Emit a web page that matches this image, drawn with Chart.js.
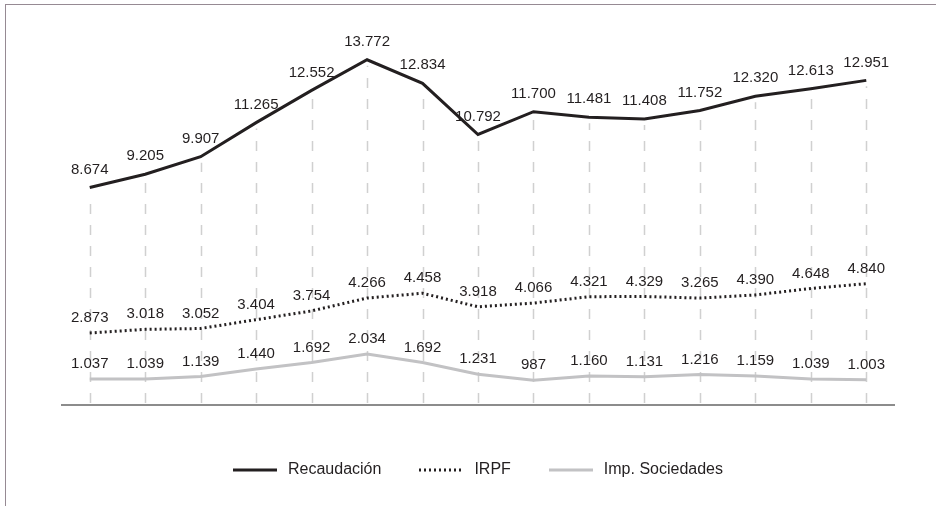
<!DOCTYPE html>
<html>
<head>
<meta charset="utf-8">
<script src="https://cdn.jsdelivr.net/npm/chart.js@4/dist/chart.umd.min.js"></script>
<style>
  html, body { margin: 0; padding: 0; background: #fff; }
  #wrap { position: relative; width: 936px; height: 506px; }
  #frame { position: absolute; left: 5px; top: 4px; right: 0; bottom: 0;
           border-left: 1px solid #968a93; border-top: 1px solid #968a93; pointer-events: none; }
</style>
</head>
<body>
<div id="wrap">
  <canvas id="chart" width="936" height="506"></canvas>
  <div id="frame"></div>
</div>
<script>
// data
const years = ['2002', '2003', '2004', '2005', '2006', '2007', '2008', '2009', '2010', '2011', '2012', '2013', '2014', '2015', '2016'];
const recaudacion = [8674, 9205, 9907, 11265, 12552, 13772, 12834, 10792, 11700, 11481, 11408, 11752, 12320, 12613, 12951];
const irpf = [2873, 3018, 3052, 3404, 3754, 4266, 4458, 3918, 4066, 4321, 4329, 4265, 4390, 4648, 4840];
// printed labels (2013 is printed as 3.265 although the line sits near 4.265)
const irpfPrinted = ['2.873', '3.018', '3.052', '3.404', '3.754', '4.266', '4.458', '3.918', '4.066', '4.321', '4.329', '3.265', '4.390', '4.648', '4.840'];
const sociedades = [1037, 1039, 1139, 1440, 1692, 2034, 1692, 1231, 987, 1160, 1131, 1216, 1159, 1039, 1003];

const FONT = "'Liberation Sans', Arial, Helvetica, sans-serif";
const TEXT = '#231f20';

const fmt = v => v.toLocaleString('de-DE');

// dashed drop lines from the top series down to the axis
const dropLines = {
  id: 'dropLines',
  beforeDatasetsDraw(chart) {
    const { ctx, chartArea } = chart;
    const meta = chart.getDatasetMeta(0);
    ctx.save();
    ctx.strokeStyle = '#d0d0d0';
    ctx.lineWidth = 1.5;
    ctx.setLineDash([10, 11]);
    meta.data.forEach(pt => {
      const x = Math.round(pt.x) + 0.5;
      ctx.beginPath();
      ctx.moveTo(x, chartArea.bottom - 2);
      ctx.lineTo(x, pt.y + 6);
      ctx.stroke();
    });
    ctx.restore();
  }
};

// value labels above each point
const valueLabels = {
  id: 'valueLabels',
  afterDatasetsDraw(chart) {
    const { ctx } = chart;
    ctx.save();
    ctx.font = '15px ' + FONT;
    ctx.fillStyle = TEXT;
    ctx.textAlign = 'center';
    ctx.textBaseline = 'middle';
    chart.data.datasets.forEach((ds, i) => {
      const meta = chart.getDatasetMeta(i);
      meta.data.forEach((pt, j) => {
        const txt = ds.printed ? ds.printed[j] : fmt(ds.data[j]);
        ctx.fillText(txt, pt.x, pt.y - (i === 0 ? 18 : 15));
      });
    });
    ctx.restore();
  }
};

// legend drawn by hand so the dotted style shows
const lineLegend = {
  id: 'lineLegend',
  afterDraw(chart) {
    const { ctx, chartArea } = chart;
    const boxW = 44, gapText = 11, gapItem = 38, y = 470;
    ctx.save();
    ctx.font = '16px ' + FONT;
    const items = chart.data.datasets.map(ds => ({ ds, w: ctx.measureText(ds.label).width }));
    const total = items.reduce((s, it) => s + boxW + gapText + it.w, 0) + gapItem * (items.length - 1);
    let x = (chartArea.left + chartArea.right) / 2 - total / 2;
    items.forEach(({ ds, w }) => {
      ctx.beginPath();
      ctx.strokeStyle = ds.borderColor;
      ctx.lineWidth = ds.borderWidth;
      ctx.setLineDash(ds.borderDash || []);
      ctx.moveTo(Math.round(x), y);
      ctx.lineTo(Math.round(x) + boxW, y);
      ctx.stroke();
      ctx.setLineDash([]);
      ctx.fillStyle = TEXT;
      ctx.textAlign = 'left';
      ctx.textBaseline = 'middle';
      ctx.fillText(ds.label, x + boxW + gapText, y);
      x += boxW + gapText + w + gapItem;
    });
    ctx.restore();
  }
};

new Chart(document.getElementById('chart'), {
  type: 'line',
  data: {
    labels: years,
    datasets: [
      { label: 'Recaudación', data: recaudacion, borderColor: '#231f20', borderWidth: 3, pointRadius: 0, tension: 0 },
      { label: 'IRPF', data: irpf, printed: irpfPrinted, borderColor: '#231f20', borderWidth: 3, borderDash: [2, 3], pointRadius: 0, tension: 0 },
      { label: 'Imp. Sociedades', data: sociedades, borderColor: '#c2c2c4', borderWidth: 3, pointRadius: 0, tension: 0 }
    ]
  },
  options: {
    responsive: false,
    animation: false,
    devicePixelRatio: 1,
    layout: { padding: { left: 62, right: 42, top: 29, bottom: 84 } },
    plugins: {
      tooltip: { enabled: false },
      legend: { display: false }
    },
    scales: {
      x: {
        offset: true,
        grid: { display: false },
        border: { display: true, color: '#8c8c8c', width: 2 },
        ticks: { color: TEXT, padding: 13, font: { family: FONT, size: 15 } },
        afterFit(scale) { scale.height = 17; }
      },
      y: {
        display: false,
        min: 0,
        max: 15000
      }
    }
  },
  plugins: [dropLines, valueLabels, lineLegend]
});
</script>
</body>
</html>
